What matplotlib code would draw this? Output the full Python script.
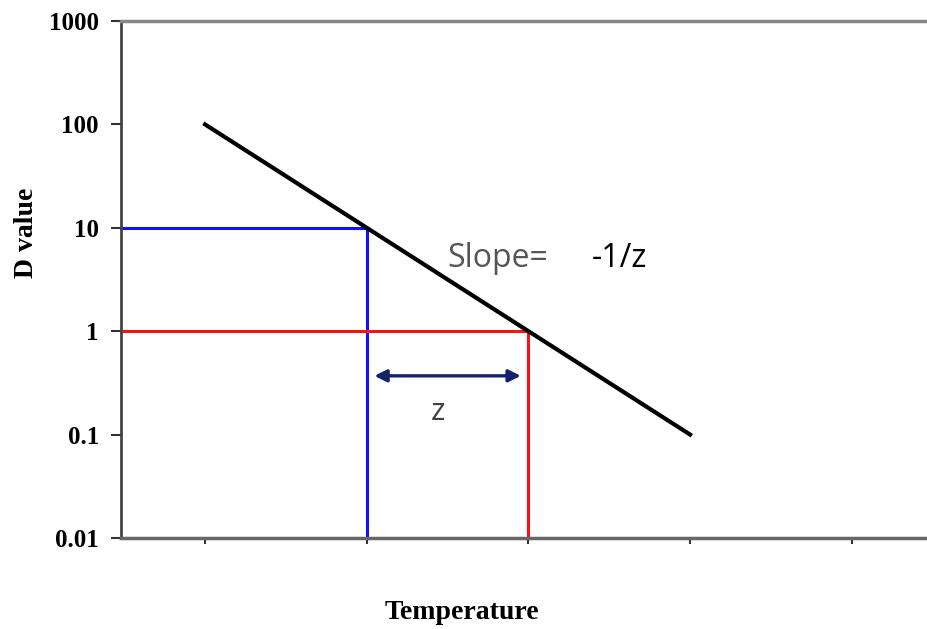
import numpy as np
import matplotlib
matplotlib.use("Agg")
import matplotlib.pyplot as plt

# data
temp = [1, 2, 3, 4]
d_value = [100, 10, 1, 0.1]
blue_pt = (2, 10)
red_pt = (3, 1)
xticks = [1, 2, 3, 4, 5]
yticks = [0.01, 0.1, 1, 10, 100, 1000]
ytick_labels = ["0.01", "0.1", "1", "10", "100", "1000"]

fig = plt.figure(figsize=(9.27, 6.29), dpi=100)
ax = fig.add_axes([0.1305, 0.1447, 0.8695, 0.8219])
ax.set_yscale("log")
ax.set_xlim(0.48, 5.465)
ax.set_ylim(0.01, 1000)

serif = ["Liberation Serif", "DejaVu Serif"]

# guide lines
ax.plot([0.48, blue_pt[0], blue_pt[0]], [blue_pt[1], blue_pt[1], 0.01],
        color="#1010ff", lw=2.2, solid_joinstyle="miter", clip_on=False)
ax.plot([0.48, red_pt[0], red_pt[0]], [red_pt[1], red_pt[1], 0.01],
        color="#ff1010", lw=2.2, solid_joinstyle="miter", clip_on=False)

# main line
ax.plot(temp, d_value, color="black", lw=3.0)

# z arrow
ax.annotate("", xy=(2.03, 0.37), xytext=(2.97, 0.37),
            arrowprops=dict(arrowstyle="<|-|>", color="#13206a", lw=2.4,
                            mutation_scale=18))
ax.text(2.44, 0.165, "z", fontsize=22, color="#404040", ha="center",
        va="center", family="Open Sans")
ax.text(2.50, 5.0, "Slope=", fontsize=23, color="#555555", ha="left",
        va="center", family="Open Sans")
ax.text(3.39, 5.0, "-1/z", fontsize=23, color="black", ha="left",
        va="center", family="Open Sans")

ax.set_xticks(xticks)
ax.set_xticklabels([])
ax.set_yticks(yticks)
ax.set_yticklabels(ytick_labels, family=serif, fontweight="bold", fontsize=18)
ax.minorticks_off()
ax.tick_params(axis="y", direction="out", length=7, width=1.5, colors="#333333",
               pad=9, labelcolor="black")
ax.tick_params(axis="x", direction="out", length=4, width=1.5, colors="#333333")

ax.spines["right"].set_visible(False)
ax.spines["top"].set_color("#888888")
ax.spines["top"].set_linewidth(2.5)
ax.spines["left"].set_color("#444444")
ax.spines["left"].set_linewidth(2.0)
ax.spines["bottom"].set_color("#666666")
ax.spines["bottom"].set_linewidth(2.5)

fig.text(0.029, 0.63, "D value", rotation=90, ha="center", va="center",
         family=serif, fontweight="bold", fontsize=20)
fig.text(0.498, 0.027, "Temperature", ha="center", va="center",
         family=serif, fontweight="bold", fontsize=20)

fig.savefig("out.png", dpi=100)
